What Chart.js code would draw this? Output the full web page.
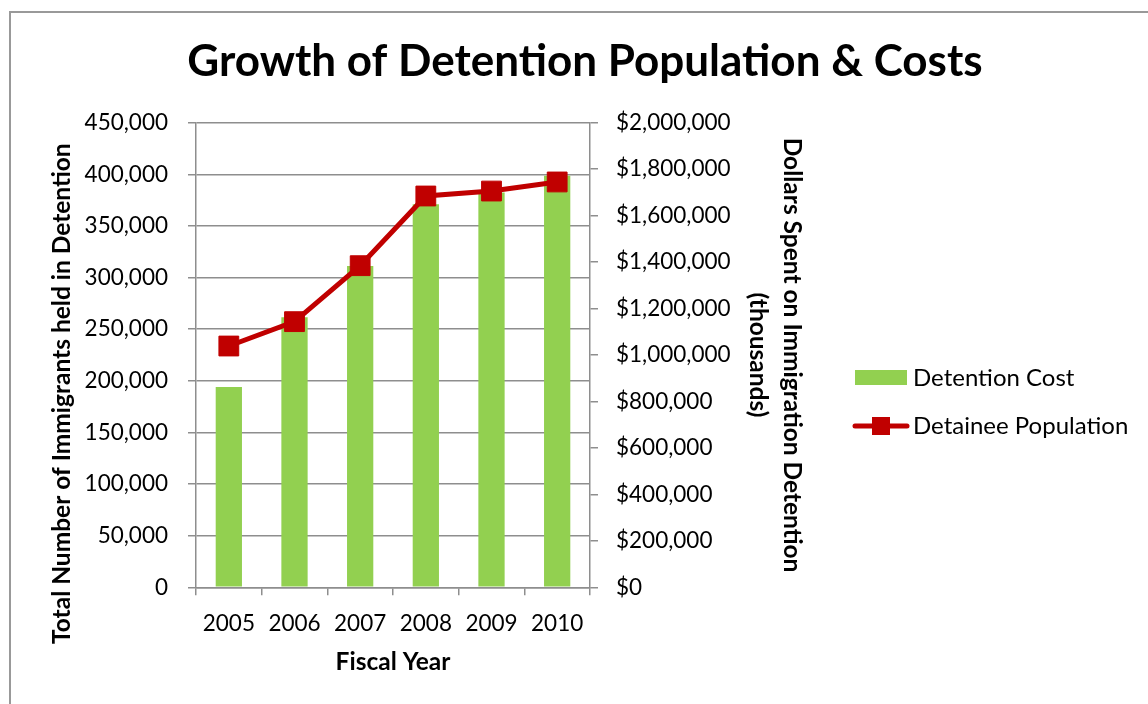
<!DOCTYPE html>
<html>
<head>
<meta charset="utf-8">
<script src="https://cdn.jsdelivr.net/npm/chart.js@4/dist/chart.umd.min.js"></script>
<style>
  body { margin: 0; background: #fff; overflow: hidden; }
  #frame { position: absolute; left: 9px; top: 11px; width: 1200px; height: 800px; border: 2px solid #999; pointer-events: none; }
  canvas { position: absolute; left: 0; top: 0; }
</style>
</head>
<body>
<canvas id="chart" width="1148" height="704"></canvas>
<div id="frame"></div>
<script>
var years = ['2005', '2006', '2007', '2008', '2009', '2010'];
var detentionCost = [862300, 1162300, 1383000, 1648700, 1700000, 1772000];   // thousands of dollars
var detaineePopulation = [233700, 257300, 311500, 379000, 383800, 392600];

var greenBar = '#92D050';
var redLine = '#C00000';
var gridGray = '#8e8e8e';
var fontName = 'Lato';

// legend on the right: box for bars, line + square marker for the line
var sideLegend = {
    id: 'sideLegend',
    afterDraw: function(chart) {
        var ctx = chart.ctx;
        var sets = chart.data.datasets;
        ctx.save();
        ctx.font = '24px ' + fontName;
        ctx.textBaseline = 'middle';

        ctx.fillStyle = sets[0].backgroundColor;
        ctx.fillRect(855, 370, 52, 15);
        ctx.fillStyle = '#000';
        ctx.fillText(sets[0].label, 913, 378);

        ctx.strokeStyle = sets[1].borderColor;
        ctx.lineWidth = 5;
        ctx.lineCap = 'round';
        ctx.beginPath();
        ctx.moveTo(855, 426);
        ctx.lineTo(907, 426);
        ctx.stroke();
        ctx.fillStyle = sets[1].borderColor;
        ctx.fillRect(872, 417, 18, 18);
        ctx.fillStyle = '#000';
        ctx.fillText(sets[1].label, 913, 426);
        ctx.restore();
    }
};

new Chart(document.getElementById('chart'), {
    type: 'bar',
    data: {
        labels: years,
        datasets: [{
            label: 'Detention Cost',
            data: detentionCost,
            backgroundColor: greenBar,
            yAxisID: 'y1',
            categoryPercentage: 1,
            barPercentage: 0.4,
            order: 1
        }, {
            type: 'line',
            label: 'Detainee Population',
            data: detaineePopulation,
            borderColor: redLine,
            backgroundColor: redLine,
            borderWidth: 5,
            pointStyle: 'rect',
            pointRadius: 14,
            pointBorderWidth: 1,
            pointBackgroundColor: redLine,
            yAxisID: 'y',
            order: 0
        }]
    },
    options: {
        responsive: false,
        devicePixelRatio: 1,
        animation: false,
        layout: {
            padding: { left: 22, right: 0, top: 0, bottom: 27.3 }
        },
        scales: {
            x: {
                afterFit: function(scale) { scale.height = 89.4; },
                grid: { display: true, drawOnChartArea: false, tickLength: 8, color: gridGray, lineWidth: 1.5 },
                border: { color: gridGray, width: 1.5 },
                ticks: { color: '#000', padding: 15, font: { family: fontName, size: 22.5 } },
                title: { display: true, text: 'Fiscal Year', color: '#000', padding: 0,
                         font: { family: fontName, size: 24.5, weight: 'bold' } }
            },
            y: {
                position: 'left',
                min: 0,
                max: 450000,
                afterFit: function(scale) { scale.width = 174; },
                grid: { color: gridGray, lineWidth: 1.5, tickLength: 8 },
                border: { color: gridGray, width: 1.5 },
                ticks: {
                    stepSize: 50000,
                    color: '#000',
                    padding: 20,
                    font: { family: fontName, size: 22.5 },
                    callback: function(v) { return v.toLocaleString('en-US'); }
                },
                title: {
                    display: true,
                    text: 'Total Number of Immigrants held in Detention             ',
                    color: '#000',
                    padding: { top: 25.3, bottom: 0 },
                    font: { family: fontName, size: 24.5, weight: 'bold' }
                }
            },
            y1: {
                position: 'right',
                min: 0,
                max: 2000000,
                afterFit: function(scale) { scale.width = 558; },
                grid: { drawOnChartArea: false, color: gridGray, lineWidth: 1.5, tickLength: 8 },
                border: { color: gridGray, width: 1.5 },
                ticks: {
                    stepSize: 200000,
                    color: '#000',
                    padding: 18,
                    font: { family: fontName, size: 22.5 },
                    callback: function(v) { return '$' + v.toLocaleString('en-US'); }
                },
                title: {
                    display: true,
                    text: ['Dollars Spent on Immigration Detention', '(thousands)'],
                    color: '#000',
                    padding: { top: 339, bottom: 0 },
                    font: { family: fontName, size: 24.5, weight: 'bold', lineHeight: 1.388 }
                }
            }
        },
        plugins: {
            legend: { display: false },
            tooltip: { enabled: false },
            title: {
                display: true,
                text: 'Growth of Detention Population & Costs',
                color: '#000',
                padding: { top: 35.6, bottom: 34.3 },
                font: { family: fontName, size: 44, weight: 'bold' }
            }
        }
    },
    plugins: [sideLegend]
});
</script>
</body>
</html>
